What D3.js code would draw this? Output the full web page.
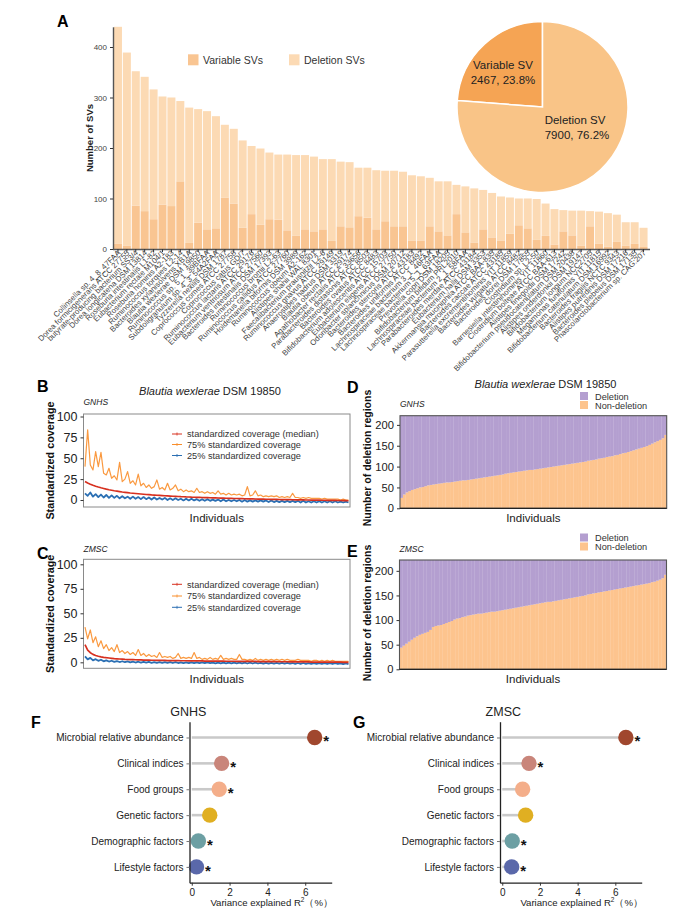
<!DOCTYPE html>
<html><head><meta charset="utf-8">
<script src="https://cdn.jsdelivr.net/npm/d3@7"></script>
<style>body{margin:0;background:#fff}svg{display:block}</style>
</head><body><svg id="c" width="680" height="921"></svg>
<script>
// ---------------- DATA ----------------
const species = ["Collinsella sp. 4_8_47FAA","Dorea formicigenerans ATCC 27755","butyrate-producing bacterium SS3/4","Dorea longicatena DSM 13814","Roseburia intestinalis L1-82","Eubacterium rectale M104/1","Roseburia hominis A2-183","Ruminococcus torques L2-14","Bacteroides xylanisolvens XB1A","Blautia wexlerae DSM 19850","Ruminococcus sp. 5_1_39BFAA","Subdoligranulum sp. 4_3_54A2FAA","Tyzzerella nexilis DSM 1787","Coprococcus comes ATCC 27758","Coprococcus catus GD/7","Ruminococcus lactaris ATCC 29176","Eubacterium ventriosum ATCC 27560","Bacteroides intestinalis DSM 17393","Ruminococcus bromii L2-63","Ruminococcus callidus ATCC 27760","Holdemanella biformis DSM 3989","Ruminococcus obeum A2-162","Alistipes shahii WAL 8301","Faecalibacterium prausnitzii L2-6","Ruminococcus gnavus ATCC 29149","Anaerostipes hadrus DSM 3319","Blautia obeum ATCC 29174","Agathobacter rectalis ATCC 33656","Parabacteroides distasonis ATCC 8503","Bacteroides ovatus ATCC 8483","Bifidobacterium adolescentis ATCC 15703","Eubacterium eligens ATCC 27750","Odoribacter splanchnicus DSM 20712","Bacteroides stercoris ATCC 43183","Bacteroides uniformis ATCC 8492","Lachnospiraceae bacterium 3_1_46FAA","Lachnospiraceae bacterium 5_1_63FAA","Prevotella copri DSM 18205","Bifidobacterium bifidum PRL2010","Lachnospiraceae bacterium 2_1_58FAA","Parabacteroides merdae ATCC 43184","Eubacterium hallii DSM 3353","Akkermansia muciniphila ATCC BAA-835","Bacteroides caccae ATCC 43185","Parasutterella excrementihominis YIT 11859","Bacteroides vulgatus ATCC 8482","Bacteroides dorei DSM 17855","Clostridium sp. L2-50","Barnesiella intestinihominis YIT 11860","Clostridium bolteae ATCC BAA-613","Alistipes finegoldii DSM 17242","Bifidobacterium pseudocatenulatum DSM 20438","Alistipes onderdonkii DSM 19147","Bifidobacterium longum NCC2705","Megamonas funiformis YIT 11815","Bifidobacterium catenulatum DSM 16992","Bacteroides fragilis NCTC 9343","Alistipes putredinis DSM 17216","Bacteroides plebeius DSM 17135","Phascolarctobacterium sp. CAG:207"];
const variableSV = [11,7,86,75,59,88,85,134,12,52,39,41,102,90,42,69,48,59,58,37,26,39,35,39,16,45,43,65,62,39,55,45,45,17,17,45,35,27,69,33,13,39,23,17,30,47,41,18,26,9,35,27,7,45,11,5,14,7,11,4];
const deletionSV = [429,382,266,266,257,214,215,159,268,225,234,222,144,148,173,135,151,132,129,150,160,147,148,139,162,128,129,96,99,117,100,110,108,129,127,96,99,107,58,91,107,78,88,87,72,53,59,81,64,70,42,49,69,30,63,66,54,46,42,38];
const svTicks = [0,100,200,300,400];
const pieLabels = ["Variable SV","Deletion SV"];
const pieValues = [2467, 7900];

const covTicks = [0,25,50,75,100];
const gnhsMedian = [22,20.3,18.9,17.6,16.5,15.5,14.6,13.8,13.0,12.3,11.7,11.1,10.6,10.1,9.6,9.2,8.8,8.4,8.1,7.8,7.5,7.2,6.9,6.6,6.4,6.1,5.9,5.7,5.5,5.3,5.1,4.9,4.7,4.5,4.4,4.2,4.0,3.9,3.7,3.6,3.4,3.3,3.2,3.1,3.0,2.9,2.8,2.7,2.6,2.5,2.4,2.3,2.2,2.1,2.0,1.9,1.8,1.8,1.7,1.6,1.5,1.4,1.4,1.3,1.2,1.1,1.1,1.0,0.9,0.9,0.8,0.7,0.7,0.6,0.5,0.5,0.4,0.4,0.3,0.2,0.2,0.1,0.1,0.0,0.0,-0.1,-0.1,-0.2,-0.2,-0.3,-0.3,-0.4,-0.4,-0.5,-0.5,-0.6,-0.6,-0.7,-0.8,-0.9];
const gnhsQ75 = [40,84,42,36,58,40,57,32,30,38,26,29,24,45,22,25,34,20,23,18,31,17,20,15,18,14,16,24,13,15,12,20,12,14,18,11,13,10,12,10,11,9,14,9,10,8,10,8,9,7,11,7,8,6,8,6,7,6,7,5,6,16,5,6,11,5,6,4,5,4,5,4,5,3,4,3,4,3,8,3,3,2,3,2,3,2,2,2,2,1,2,1,1,1,1,1,0,1,0,0];
const gnhsQ25 = [8,5,9,4,7,3.5,6.5,3,6,2.5,5.5,2.5,5,2,4.5,2,4,1.5,4,1.5,3.5,1,3.5,1,3,0.5,3,0.5,2.5,0.5,2.5,0,2,0,2,0,1.5,-0.5,1.5,-0.5,1.5,-0.5,1,-1,1,-1,1,-1,0.5,-1,0.5,-1.5,0.5,-1.5,0,-1.5,0,-1.5,0,-2,0,-2,-0.5,-2,-0.5,-2,-0.5,-2,-0.5,-2.5,-0.5,-2.5,-1,-2.5,-1,-2.5,-1,-2.5,-1,-2.5,-1,-3,-1,-3,-1.5,-3,-1.5,-3,-1.5,-3,-1.5,-3,-1.5,-3,-1.5,-3,-2,-3,-2,-3];
const zmscMedian = [18,12.5,9.8,8.1,7.0,6.2,5.6,5.1,4.7,4.4,4.1,3.8,3.6,3.4,3.2,3.0,2.9,2.8,2.7,2.6,2.5,2.4,2.3,2.3,2.2,2.1,2.1,2.0,2.0,1.9,1.9,1.8,1.8,1.7,1.7,1.7,1.6,1.6,1.6,1.5,1.5,1.5,1.4,1.4,1.4,1.3,1.3,1.3,1.3,1.2,1.2,1.2,1.2,1.1,1.1,1.1,1.1,1.0,1.0,1.0,1.0,0.9,0.9,0.9,0.9,0.8,0.8,0.8,0.8,0.7,0.7,0.7,0.7,0.6,0.6,0.6,0.6,0.5,0.5,0.5,0.5,0.4,0.4,0.4,0.4,0.3,0.3,0.3,0.3,0.2,0.2,0.2,0.2,0.1,0.1,0.1,0.1,0.0,0.0,0.0];
const zmscQ75 = [36,24,33,20,26,16,22,14,18,12,15,11,18,10,12,9,11,8,10,7,13,7,9,6,8,6,7,5,10,5,6,5,6,4,5,9,4,5,4,5,4,10,4,5,3,4,3,5,3,4,3,7,3,4,3,4,3,3,8,3,3,2,3,2,4,2,3,2,3,2,3,2,3,2,3,2,3,2,2,2,3,2,2,2,2,1,2,2,1,2,1,2,1,2,1,1,1,1,1,1];
const zmscQ25 = [6,3,4.5,2,3.2,1.5,2.6,1,2,0.8,1.6,0.5,1.3,0.3,1.1,0.1,0.9,0,0.7,-0.2,0.6,-0.3,0.5,-0.4,0.4,-0.5,0.3,-0.5,0.2,-0.6,0.2,-0.6,0.1,-0.7,0.1,-0.7,0,-0.8,0,-0.8,0,-0.8,-0.1,-0.9,-0.1,-0.9,-0.1,-0.9,-0.2,-1.0,-0.2,-1.0,-0.2,-1.0,-0.3,-1.1,-0.3,-1.1,-0.3,-1.1,-0.4,-1.2,-0.4,-1.2,-0.4,-1.2,-0.5,-1.3,-0.5,-1.3,-0.5,-1.3,-0.6,-1.4,-0.6,-1.4,-0.6,-1.4,-0.7,-1.5,-0.7,-1.5,-0.7,-1.5,-0.8,-1.6,-0.8,-1.6,-0.8,-1.6,-0.9,-1.7,-0.9,-1.7,-0.9,-1.7,-1.0,-1.8,-1.0,-1.8];
const covLegend = ["standardized coverage (median)","75% standardized coverage","25% standardized coverage"];

const totalRegions = 222;
const regTicks = [0,50,100,150,200];
const gnhsNonDeletion = [25,33,38,41,44,46,48,50,51,53,55,56,57,58,59,60,61,62,62,63,64,65,66,67,67,68,69,70,71,72,73,74,75,76,77,78,79,80,81,83,84,85,86,87,88,89,90,91,92,92,93,94,95,96,97,98,99,100,101,102,103,104,105,106,107,108,109,110,111,112,114,115,116,117,119,120,121,123,124,125,127,128,130,132,133,135,137,139,141,143,145,147,149,152,155,158,161,164,168,176];
const zmscNonDeletion = [44,48,52,56,60,64,67,70,72,74,76,80,86,88,89,90,92,94,96,98,101,103,104,106,107,109,110,111,112,113,113,114,115,116,117,117,118,119,120,121,122,123,124,125,126,127,128,129,130,131,132,133,134,135,136,137,137,138,139,140,141,142,143,144,145,146,147,148,149,150,152,153,154,155,156,157,158,159,160,161,162,163,164,165,166,167,168,169,170,171,172,173,174,175,177,178,180,182,185,192];
const regLegend = ["Deletion","Non-deletion"];

const factors = ["Microbial relative abundance","Clinical indices","Food groups","Genetic factors","Demographic factors","Lifestyle factors"];
const gnhsR2 = [6.5,1.58,1.45,0.95,0.35,0.25];
const gnhsSig = [true,true,true,false,true,true];
const zmscR2 = [6.56,1.42,1.08,1.24,0.53,0.5];
const zmscSig = [true,true,false,false,true,true];
const r2Ticks = [0,2,4,6];

// ---------------- DRAW ----------------
const FONT = '"Liberation Sans", Arial, Helvetica, sans-serif';
const svg = d3.select("#c").attr("font-family", FONT);
svg.append("rect").attr("width",680).attr("height",921).attr("fill","#fff");

function letter(t,x,y){ svg.append("text").attr("x",x).attr("y",y).attr("font-size",16).attr("font-weight","bold").attr("fill","#000").text(t); }
function styleAxis(ax, fs, col){
  ax.attr("font-family",FONT);
  ax.selectAll(".tick line").attr("stroke","#333");
  ax.selectAll(".tick text").attr("font-size",fs).attr("fill",col||"#333");
  ax.select(".domain").attr("stroke","#333");
}

// ===== Panel A =====
letter("A",57,27);
const xA = d3.scaleBand().domain(species).range([113.5,648]).paddingInner(0.1).paddingOuter(0.05);
const yA = d3.scaleLinear().domain([0,440]).range([249,26.8]);
const rowsA = species.map((s,i)=>({species:s, variable:variableSV[i], deletion:deletionSV[i]}));
const stackA = d3.stack().keys(["variable","deletion"])(rowsA);
const colA = {variable:"#F9C592", deletion:"#FCDAB4"};
svg.append("g").selectAll("g").data(stackA).join("g").attr("fill",d=>colA[d.key])
  .selectAll("rect").data(d=>d).join("rect")
  .attr("x",d=>xA(d.data.species)).attr("width",xA.bandwidth())
  .attr("y",d=>yA(d[1])).attr("height",d=>yA(d[0])-yA(d[1]));
const axAy = svg.append("g").attr("transform","translate(113,0)")
  .call(d3.axisLeft(yA).tickValues(svTicks).tickSize(3).tickSizeOuter(0));
styleAxis(axAy, 8, "#444");
axAy.select(".domain").attr("stroke-width",1.4).attr("stroke","#555");
const axAx = svg.append("g").attr("transform","translate(0,249)")
  .call(d3.axisBottom(xA).tickSize(3).tickSizeOuter(0));
styleAxis(axAx, 7.8, "#444");
axAx.select(".domain").attr("stroke-width",1.4).attr("stroke","#555").attr("d","M113,0.5H650");
axAx.selectAll(".tick text").attr("transform","rotate(-45)").attr("text-anchor","end")
  .attr("x",-1).attr("y",2).attr("dy","0.4em");
svg.append("text").attr("transform","translate(92.5,138) rotate(-90)").attr("text-anchor","middle")
  .attr("font-size",9.5).attr("font-weight","bold").attr("fill","#222").text("Number of SVs");
// legend A
const legA = [["Variable SVs",colA.variable,188],["Deletion SVs",colA.deletion,289]];
legA.forEach(([t,c,x])=>{
  svg.append("rect").attr("x",x).attr("y",54.3).attr("width",10.5).attr("height",11).attr("fill",c);
  svg.append("text").attr("x",x+15).attr("y",64).attr("font-size",10.5).attr("fill","#333").text(t);
});
// pie
const pieSum = d3.sum(pieValues);
const a0 = -2*Math.PI*pieValues[0]/pieSum;
const arcs = d3.pie().sort(null).startAngle(a0).endAngle(a0+2*Math.PI)(pieValues);
const arc = d3.arc().innerRadius(0).outerRadius(85.5);
const pieCols = ["#F5A454","#F9C487"];
const pg = svg.append("g").attr("transform","translate(542.5,107)");
pg.selectAll("path").data(arcs).join("path").attr("d",arc).attr("fill",(d,i)=>pieCols[i])
  .attr("stroke","#fff").attr("stroke-width",1.5);
const pieTextPos = [[503,69.3],[575,124.3]];
arcs.forEach((d,i)=>{
  const [px,py] = pieTextPos[i];
  const t = svg.append("text").attr("text-anchor","middle").attr("font-size",11.5).attr("fill","#222");
  t.append("tspan").attr("x",px).attr("y",py).text(pieLabels[i]);
  t.append("tspan").attr("x",px+(i?2:0)).attr("y",py+14.5).text(`${pieValues[i]}, ${(pieValues[i]/pieSum*100).toFixed(1)}%`);
});

// ===== Coverage panels B/C =====
const covColors = ["#D7301F","#F98E2B","#2B6FB3"];
function covPanel(o){
  const g = svg.append("g");
  const n = o.median.length;
  const x = d3.scaleLinear().domain([0,n-1]).range([o.x0+1.5,o.x1-1.5]);
  const y = d3.scaleLinear().domain(o.yDomain).range([o.y1,o.y0]);
  const cid = "clip"+o.id;
  svg.append("clipPath").attr("id",cid).append("rect").attr("x",o.x0).attr("y",o.y0).attr("width",o.x1-o.x0).attr("height",o.y1-o.y0);
  const line = d3.line().x((d,i)=>x(i)).y(d=>y(d));
  const plot = g.append("g").attr("clip-path",`url(#${cid})`);
  [[o.q75,covColors[1],1.2,0.9],[o.q25,covColors[2],1.8,1],[o.median,covColors[0],1.7,1]].forEach(([v,c,w,op])=>{
    plot.append("path").attr("d",line(v)).attr("fill","none").attr("stroke",c).attr("stroke-width",w).attr("stroke-opacity",op).attr("stroke-linejoin","round");
  });
  g.append("rect").attr("x",o.x0).attr("y",o.y0).attr("width",o.x1-o.x0).attr("height",o.y1-o.y0)
    .attr("fill","none").attr("stroke","#8a8a8a").attr("stroke-width",1);
  const ax = g.append("g").attr("transform",`translate(${o.x0},0)`).call(d3.axisLeft(y).tickValues(covTicks).tickSize(3).tickSizeOuter(0));
  ax.select(".domain").remove();
  styleAxis(ax, 12.5, "#222");
  // legend
  o.legY.forEach((ly,i)=>{
    const c = covColors[i];
    g.append("line").attr("x1",172).attr("x2",182).attr("y1",ly).attr("y2",ly).attr("stroke",c).attr("stroke-width",1);
    g.append("line").attr("x1",177).attr("x2",177).attr("y1",ly-1.5).attr("y2",ly+1.5).attr("stroke",c).attr("stroke-width",0.8);
    g.append("text").attr("x",187).attr("y",ly+3.2).attr("font-size",9.2).attr("fill","#333").text(covLegend[i]);
  });
  g.append("text").attr("x",o.x0).attr("y",o.cohortY).attr("font-size",8.5).attr("font-style","italic").attr("fill","#222").text(o.cohort);
  g.append("text").attr("x",(o.x0+o.x1)/2).attr("y",o.indY).attr("text-anchor","middle").attr("font-size",11.5).attr("fill","#222").text("Individuals");
  g.append("text").attr("transform",`translate(53.5,${(o.y0+o.y1)/2}) rotate(-90)`).attr("text-anchor","middle")
    .attr("font-size",10.8).attr("font-weight","bold").attr("fill","#111").text("Standardized coverage");
}
function title(cx,y){
  const t = svg.append("text").attr("x",cx).attr("y",y).attr("text-anchor","middle").attr("font-size",11).attr("fill","#222");
  t.append("tspan").attr("font-style","italic").text("Blautia wexlerae");
  t.append("tspan").text(" DSM 19850");
}
letter("B",37,392);
title(210,395);
covPanel({id:"B",x0:83.5,x1:350,y0:414,y1:507,yDomain:[-8.4,103],median:gnhsMedian,q75:gnhsQ75,q25:gnhsQ25,
  legY:[434,444.5,455.5],cohort:"GNHS",cohortY:405,indY:522});
letter("C",37,559);
covPanel({id:"C",x0:83.5,x1:350,y0:559.3,y1:668.3,yDomain:[-6.1,105.1],median:zmscMedian,q75:zmscQ75,q25:zmscQ25,
  legY:[584.3,596,607.3],cohort:"ZMSC",cohortY:552,indY:683});

// ===== Deletion panels D/E =====
const regCols = {del:"#B49FD0", nondel:"#FDC48E"};
function regPanel(o){
  const g = svg.append("g");
  const x = d3.scaleBand().domain(d3.range(o.nd.length)).range([o.x0,o.x1]).padding(0);
  const y = d3.scaleLinear().domain([0,totalRegions]).range([o.y1,o.y0]);
  const rows = o.nd.map((v,i)=>({i, nondel:v, del: totalRegions - v}));
  const st = d3.stack().keys(["nondel","del"])(rows);
  g.append("g").selectAll("g").data(st).join("g").attr("fill",d=>regCols[d.key])
    .selectAll("rect").data(d=>d).join("rect")
    .attr("x",d=>x(d.data.i)).attr("width",x.bandwidth()+0.25)
    .attr("y",d=>y(d[1])).attr("height",d=>y(d[0])-y(d[1]));
  g.append("rect").attr("x",o.x0).attr("y",o.y0).attr("width",o.x1-o.x0).attr("height",o.y1-o.y0)
    .attr("fill","none").attr("stroke","#555").attr("stroke-width",1.1);
  const ax = g.append("g").attr("transform",`translate(${o.x0},0)`).call(d3.axisLeft(y).tickValues(regTicks).tickSize(3).tickSizeOuter(0));
  ax.select(".domain").remove();
  styleAxis(ax, 11.2, "#222");
  g.append("line").attr("x1",o.x0).attr("x2",o.x1).attr("y1",o.y1).attr("y2",o.y1).attr("stroke","#222").attr("stroke-width",1.3);
  // legend
  [["del",0],["nondel",1]].forEach(([k,i])=>{
    g.append("rect").attr("x",580).attr("y",o.legY+i*9).attr("width",8).attr("height",8).attr("fill",regCols[k]);
    g.append("text").attr("x",595).attr("y",o.legY+i*9+7.5).attr("font-size",9.2).attr("fill","#333").text(regLegend[i]);
  });
  g.append("text").attr("x",o.x0).attr("y",o.cohortY).attr("font-size",8.5).attr("font-style","italic").attr("fill","#222").text(o.cohort);
  g.append("text").attr("x",(o.x0+o.x1)/2).attr("y",o.indY).attr("text-anchor","middle").attr("font-size",11.5).attr("fill","#222").text("Individuals");
  g.append("text").attr("transform",`translate(370.5,${o.labY}) rotate(-90)`).attr("text-anchor","middle")
    .attr("font-size",10.5).attr("font-weight","bold").attr("fill","#111").text("Number of deletion regions");
}
letter("D",347,393);
title(545.5,388);
regPanel({x0:400,x1:666.7,y0:415.7,y1:508.3,nd:gnhsNonDeletion,legY:392,cohort:"GNHS",cohortY:407,indY:522,labY:458});
letter("E",347,557);
regPanel({x0:399.5,x1:666.5,y0:560,y1:669.3,nd:zmscNonDeletion,legY:533.5,cohort:"ZMSC",cohortY:552,indY:683,labY:613});

// ===== Lollipop panels F/G =====
const factorColors = ["#A0472E","#C9857A","#F4AE8A","#E0AF22","#6C9FA3","#5A68AA"];
function lolli(o){
  const g = svg.append("g");
  const x = d3.scaleLinear().domain([-0.12,7.4]).range([o.x0,o.x1]);
  const y = d3.scalePoint().domain(factors).range([721.7,882.7]).padding(0.61);
  g.selectAll("line.seg").data(factors).join("line").attr("class","seg")
    .attr("x1",x(0)).attr("x2",(d,i)=>x(o.vals[i])).attr("y1",d=>y(d)).attr("y2",d=>y(d))
    .attr("stroke","#c9c9c9").attr("stroke-width",2.6);
  g.selectAll("circle").data(factors).join("circle")
    .attr("cx",(d,i)=>x(o.vals[i])).attr("cy",d=>y(d)).attr("r",7.7)
    .attr("fill",(d,i)=>factorColors[i]);
  g.selectAll("text.star").data(factors.filter((d,i)=>o.sig[i])).join("text").attr("class","star")
    .attr("x",d=>x(o.vals[factors.indexOf(d)])+11.5).attr("y",d=>y(d)+8.7)
    .attr("text-anchor","middle").attr("font-size",15).attr("font-weight","bold").attr("fill","#111").text("*");
  const ay = g.append("g").attr("transform",`translate(${o.x0},0)`).call(d3.axisLeft(y).tickSize(3).tickSizeOuter(0));
  styleAxis(ay, 10, "#222");
  ay.select(".domain").attr("stroke-width",1.3).attr("stroke","#222");
  ay.selectAll(".tick line").attr("stroke","#777");
  const ax = g.append("g").attr("transform","translate(0,882.7)").call(d3.axisBottom(x).tickValues(r2Ticks).tickSize(3).tickSizeOuter(0));
  styleAxis(ax, 10, "#222");
  ax.select(".domain").attr("stroke-width",1.3).attr("stroke","#222");
  g.append("text").attr("x",o.titleX).attr("y",716).attr("text-anchor","middle").attr("font-size",12.5).attr("fill","#222").text(o.cohort);
  const xl = g.append("text").attr("x",o.labX).attr("y",905.5).attr("text-anchor","middle").attr("font-size",9.6).attr("fill","#222");
  xl.append("tspan").text("Variance explained R");
  xl.append("tspan").attr("font-size",6.5).attr("dy",-4).text("2");
  xl.append("tspan").attr("dy",4).text("（%）");
}
letter("F",31,728);
lolli({x0:189.5,x1:331.7,vals:gnhsR2,sig:gnhsSig,cohort:"GNHS",titleX:188.3,labX:271.7});
letter("G",353,728);
lolli({x0:500,x1:641.7,vals:zmscR2,sig:zmscSig,cohort:"ZMSC",titleX:503.3,labX:581.7});
</script></body></html>
